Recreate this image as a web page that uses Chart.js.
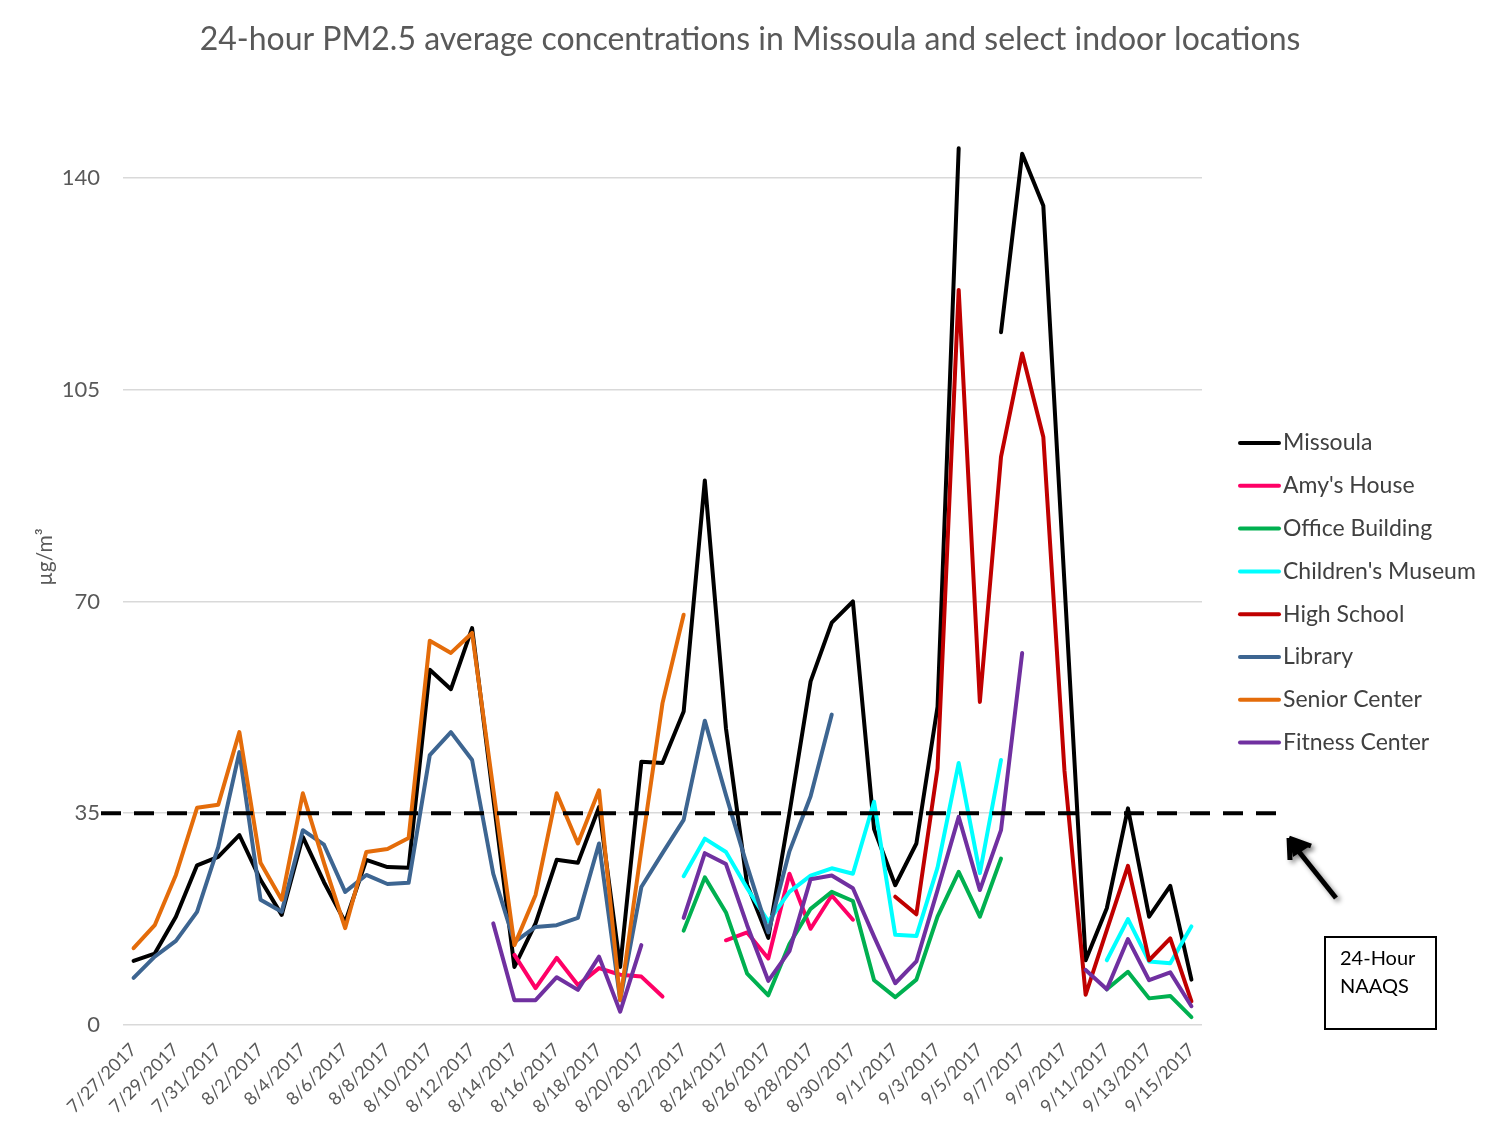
<!DOCTYPE html>
<html>
<head>
  <title>24-hour PM2.5 average concentrations</title>
  <style>
    body {
      margin: 0;
      background: #ffffff;
    }
  </style>
</head>
<body>
  <canvas id="pm-chart" width="1500" height="1125"></canvas>

  <script src="https://cdn.jsdelivr.net/npm/chart.js"></script>
  <script>
    // daily dates, 7/27/2017 .. 9/15/2017
    const dates = [
      "7/27/2017", "7/28/2017", "7/29/2017", "7/30/2017", "7/31/2017",
      "8/1/2017", "8/2/2017", "8/3/2017", "8/4/2017", "8/5/2017", "8/6/2017",
      "8/7/2017", "8/8/2017", "8/9/2017", "8/10/2017", "8/11/2017", "8/12/2017",
      "8/13/2017", "8/14/2017", "8/15/2017", "8/16/2017", "8/17/2017", "8/18/2017",
      "8/19/2017", "8/20/2017", "8/21/2017", "8/22/2017", "8/23/2017", "8/24/2017",
      "8/25/2017", "8/26/2017", "8/27/2017", "8/28/2017", "8/29/2017", "8/30/2017",
      "8/31/2017", "9/1/2017", "9/2/2017", "9/3/2017", "9/4/2017", "9/5/2017",
      "9/6/2017", "9/7/2017", "9/8/2017", "9/9/2017", "9/10/2017", "9/11/2017",
      "9/12/2017", "9/13/2017", "9/14/2017", "9/15/2017"
    ];

    // µg/m3, null = no data that day
    const missoula = [
      10.6, 11.8, 17.9, 26.4, 27.8, 31.4, 24, 18.2, 31.1, 23.6,
      17, 27.3, 26.1, 26, 58.7, 55.5, 65.6, 37.5, 9.6, 16.8,
      27.3, 26.8, 36, 9.6, 43.5, 43.3, 51.8, 90, 49, 23.2,
      14.4, 35, 56.8, 66.5, 70, 32.4, 23.1, 30, 52.6, 144.9,
      null, 114.5, 144, 135.4, 73, 10.7, 19.3, 35.8, 17.9, 23,
      7.5
    ];
    const amysHouse = [
      null, null, null, null, null, null, null, null, null, null,
      null, null, null, null, null, null, null, null, 11.6, 6.1,
      11.1, 6.6, 9.4, 8.3, 8, 4.7, null, null, 14, 15.3,
      11, 25, 15.9, 21.4, 17.4, null, null, null, null, null,
      null, null, null, null, null, null, null, null, null, null,
      null
    ];
    const officeBuilding = [
      null, null, null, null, null, null, null, null, null, null,
      null, null, null, null, null, null, null, null, null, null,
      null, null, null, null, null, null, 15.6, 24.4, 18.6, 8.5,
      4.9, 13.4, 19.2, 22, 20.5, 7.4, 4.6, 7.5, 17.9, 25.3,
      17.9, 27.5, null, null, null, null, 5.9, 8.8, 4.4, 4.8,
      1.3
    ];
    const childrensMuseum = [
      null, null, null, null, null, null, null, null, null, null,
      null, null, null, null, null, null, null, null, null, null,
      null, null, null, null, null, null, 24.6, 30.8, 28.6, 22.6,
      17.1, 22, 24.7, 25.9, 25, 36.9, 14.9, 14.7, 26, 43.3,
      25.1, 43.8, null, null, null, null, 10.7, 17.5, 10.5, 10.2,
      16.3
    ];
    const highSchool = [
      null, null, null, null, null, null, null, null, null, null,
      null, null, null, null, null, null, null, null, null, null,
      null, null, null, null, null, null, null, null, null, null,
      null, null, null, null, null, null, 21.2, 18.3, 42.4, 121.5,
      53.4, 93.9, 111, 97.2, 42, 5, 15.7, 26.3, 10.7, 14.3,
      3.9
    ];
    const library = [
      7.8, 11.3, 13.9, 18.7, 29.4, 45.1, 20.7, 18.7, 32.2, 29.8,
      22, 24.8, 23.3, 23.5, 44.6, 48.4, 43.8, 25, 13.7, 16.2,
      16.5, 17.7, 30, 4.1, 22.8, 28.4, 33.9, 50.3, 38, 26.3,
      15.3, 28.7, 37.8, 51.3, null, null, null, null, null, null,
      null, null, null, null, null, null, null, null, null, null,
      null
    ];
    const seniorCenter = [
      12.7, 16.5, 24.8, 35.9, 36.4, 48.4, 26.8, 20.7, 38.3, 26.8,
      16, 28.6, 29.1, 30.9, 63.5, 61.5, 64.8, 39, 13.2, 21.5,
      38.3, 30, 38.8, 4.1, 29, 53.2, 67.8, null, null, null,
      null, null, null, null, null, null, null, null, null, null,
      null, null, null, null, null, null, null, null, null, null,
      null
    ];
    const fitnessCenter = [
      null, null, null, null, null, null, null, null, null, null,
      null, null, null, null, null, null, null, 16.8, 4.1, 4.1,
      7.9, 5.8, 11.3, 2.2, 13.2, null, 17.7, 28.4, 26.6, 16.5,
      7.3, 12.2, 24.1, 24.7, 22.6, 14.6, 6.9, 10.5, 22.3, 34.4,
      22.3, 32.2, 61.5, null, null, 9.1, 5.9, 14.2, 7.4, 8.7,
      3.1
    ];

    const yTicks = [0, 35, 70, 105, 140];
    const naaqs = 35;

    const seriesNames = [
      "Missoula", "Amy's House", "Office Building", "Children's Museum",
      "High School", "Library", "Senior Center", "Fitness Center"
    ];
    const seriesData = [
      missoula, amysHouse, officeBuilding, childrensMuseum,
      highSchool, library, seniorCenter, fitnessCenter
    ];
    const seriesColors = [
      "#000000", "#ff0066", "#00b050", "#00ffff",
      "#c00000", "#3d6591", "#e46c0a", "#7030a0"
    ];

    const FONT = "Lato, 'Open Sans', sans-serif";
    const TITLE = "24-hour PM2.5 average concentrations in Missoula and select indoor locations";

    // title, axis title, NAAQS dashed line, arrow, note box and legend
    const extrasPlugin = {
      id: "extras",
      afterDatasetsDraw(chart) {
        const ctx = chart.ctx;
        const y = chart.scales.y.getPixelForValue(naaqs);

        ctx.save();
        ctx.fillStyle = "#595959";
        ctx.textAlign = "center";
        ctx.textBaseline = "middle";
        ctx.font = "32px " + FONT;
        ctx.fillText(TITLE, 750, 40);

        ctx.save();
        ctx.translate(45, 557);
        ctx.rotate(-Math.PI / 2);
        ctx.font = "21px " + FONT;
        ctx.fillText("µg/m³", 0, 0);
        ctx.restore();

        ctx.strokeStyle = "#000000";
        ctx.lineWidth = 4;
        ctx.setLineDash([20, 13]);
        ctx.beginPath();
        ctx.moveTo(101, y);
        ctx.lineTo(1277, y);
        ctx.stroke();
        ctx.setLineDash([]);

        // arrow pointing at the line
        ctx.shadowColor = "rgba(0,0,0,0.45)";
        ctx.shadowBlur = 5;
        ctx.shadowOffsetX = 3;
        ctx.shadowOffsetY = 3;
        ctx.lineWidth = 5;
        ctx.lineCap = "butt";
        ctx.beginPath();
        ctx.moveTo(1336, 898);
        ctx.lineTo(1292, 843);
        ctx.stroke();
        ctx.beginPath();
        ctx.moveTo(1289, 838);
        ctx.lineTo(1310, 846);
        ctx.lineTo(1293, 857);
        ctx.closePath();
        ctx.fillStyle = "#000000";
        ctx.fill();
        ctx.beginPath();
        ctx.moveTo(1289, 838);
        ctx.lineTo(1290, 860);
        ctx.moveTo(1289, 838);
        ctx.lineTo(1311, 846);
        ctx.stroke();
        ctx.shadowColor = "transparent";

        // note box
        ctx.lineWidth = 2;
        ctx.strokeRect(1325, 937, 111, 92);
        ctx.font = "20px " + FONT;
        ctx.fillStyle = "#000000";
        ctx.textAlign = "left";
        ctx.fillText("24-Hour", 1340, 959);
        ctx.fillText("NAAQS", 1340, 987);

        // legend
        ctx.font = "23px " + FONT;
        ctx.lineWidth = 4;
        ctx.lineCap = "round";
        seriesNames.forEach((name, i) => {
          const ly = 443 + i * 42.8;
          ctx.strokeStyle = seriesColors[i];
          ctx.beginPath();
          ctx.moveTo(1240, ly);
          ctx.lineTo(1279, ly);
          ctx.stroke();
          ctx.fillStyle = "#404040";
          ctx.fillText(name, 1283, ly);
        });
        ctx.restore();
      }
    };

    const ctx = document.getElementById("pm-chart").getContext("2d");
    new Chart(ctx, {
      type: "line",
      data: {
        labels: dates,
        datasets: seriesNames.map((name, i) => ({
          label: name,
          data: seriesData[i],
          borderColor: seriesColors[i],
          backgroundColor: seriesColors[i],
          borderWidth: 4,
          pointRadius: 0,
          tension: 0,
          spanGaps: false,
          borderJoinStyle: "round",
          borderCapStyle: "round",
          clip: false,
          order: seriesNames.length - i,
        })),
      },
      options: {
        responsive: false,
        animation: false,
        layout: {
          padding: { left: 0, right: 298, top: 135.6, bottom: 0 },
        },
        scales: {
          x: {
            offset: true,
            grid: { display: false },
            border: { display: false },
            ticks: {
              autoSkip: false,
              minRotation: 45,
              maxRotation: 45,
              padding: 6,
              color: "#595959",
              font: { family: FONT, size: 18 },
              callback: function (value, index) {
                return index % 2 === 0 ? this.getLabelForValue(value) : "";
              },
            },
            afterFit: (scale) => {
              scale.height = 100;
            },
          },
          y: {
            min: 0,
            max: 147,
            afterBuildTicks: (scale) => {
              scale.ticks = yTicks.map((v) => ({ value: v }));
            },
            grid: { color: "#d9d9d9", lineWidth: 1.5, drawTicks: false },
            border: { display: false },
            ticks: {
              padding: 23,
              color: "#595959",
              font: { family: FONT, size: 22 },
            },
            afterFit: (scale) => {
              scale.width = 123;
            },
          },
        },
        plugins: {
          legend: { display: false },
          tooltip: { enabled: false },
          title: { display: false },
        },
      },
      plugins: [extrasPlugin],
    });
  </script>
</body>
</html>
